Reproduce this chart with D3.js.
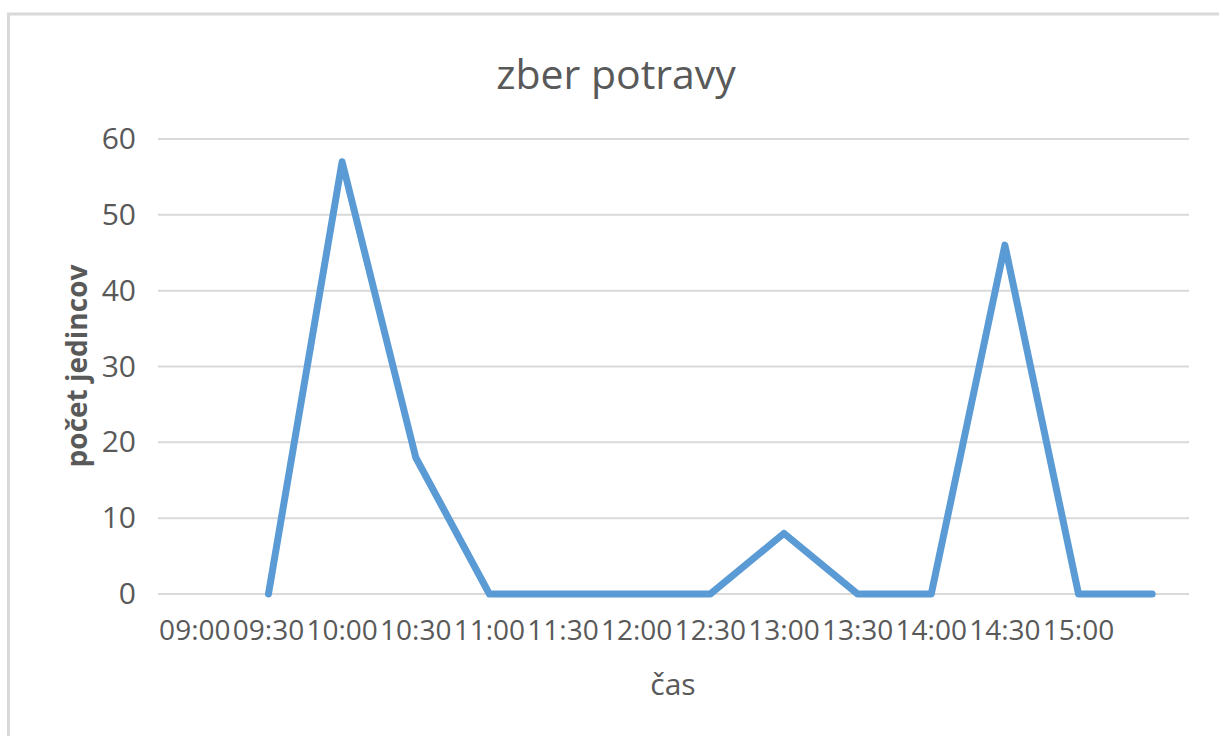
<!DOCTYPE html>
<html>
<head>
<meta charset="utf-8">
<script src="https://cdn.jsdelivr.net/npm/d3@7"></script>
<style>
  body { margin: 0; background: #fff; }
  text { font-family: "Open Sans", sans-serif; fill: #595959; }
</style>
</head>
<body>
<svg id="chart"></svg>
<script>
"use strict";

// data
let categories = ["09:00", "09:30", "10:00", "10:30", "11:00", "11:30", "12:00",
                  "12:30", "13:00", "13:30", "14:00", "14:30", "15:00", ""];
let counts = [null, 0, 57, 18, 0, 0, 0, 0, 8, 0, 0, 46, 0, 0];
let yTicks = [0, 10, 20, 30, 40, 50, 60];

let width = 1219, height = 736;
let margin = {top: 139, right: 30, bottom: 142, left: 158};
let plotW = 1189 - margin.left,
    plotH = 594 - margin.top;

let svg = d3.select("#chart")
  .attr("width", width)
  .attr("height", height);

// chart frame
svg.append("rect")
  .attr("x", 8.5).attr("y", 14)
  .attr("width", 1300).attr("height", 800)
  .attr("fill", "#fff")
  .attr("stroke", "#d9d9d9")
  .attr("stroke-width", 3);

let g = svg.append("g")
  .attr("transform", `translate(${margin.left},${margin.top})`);

let x = d3.scaleBand()
  .domain(d3.range(categories.length))
  .range([0, plotW]);

let y = d3.scaleLinear()
  .domain([0, 60])
  .range([plotH, 0]);

// gridlines
g.append("g")
  .selectAll("line")
  .data(yTicks)
  .join("line")
    .attr("x1", 0).attr("x2", plotW)
    .attr("y1", d => y(d)).attr("y2", d => y(d))
    .attr("stroke", "#d9d9d9")
    .attr("stroke-width", 2);

// y axis labels
let yAxis = g.append("g")
  .call(d3.axisLeft(y).tickValues(yTicks).tickSize(0).tickPadding(22));
yAxis.select(".domain").remove();
yAxis.selectAll("text")
  .style("font-family", "'Open Sans', sans-serif")
  .style("font-size", "30px")
  .attr("fill", "#595959");

// x axis labels
let xAxis = g.append("g")
  .attr("transform", `translate(0,${plotH})`)
  .call(d3.axisBottom(x).tickFormat(i => categories[i]).tickSize(0).tickPadding(26));
xAxis.select(".domain").remove();
xAxis.selectAll("text")
  .style("font-family", "'Open Sans', sans-serif")
  .style("font-size", "28px")
  .attr("fill", "#595959");

// series line
let line = d3.line()
  .defined(d => d.v !== null)
  .x(d => x(d.i) + x.bandwidth() / 2)
  .y(d => y(d.v));

g.append("path")
  .datum(counts.map((v, i) => ({i: i, v: v})))
  .attr("fill", "none")
  .attr("stroke", "#5b9bd5")
  .attr("stroke-width", 7)
  .attr("stroke-linejoin", "round")
  .attr("stroke-linecap", "round")
  .attr("d", line);

// title and axis titles
svg.append("text")
  .attr("x", 616).attr("y", 89)
  .attr("text-anchor", "middle")
  .style("font-size", "41px")
  .text("zber potravy");

svg.append("text")
  .attr("x", 673).attr("y", 695)
  .attr("text-anchor", "middle")
  .style("font-size", "30px")
  .text("čas");

svg.append("text")
  .attr("transform", "translate(87,366) rotate(-90)")
  .attr("text-anchor", "middle")
  .style("font-size", "28px")
  .style("font-weight", "bold")
  .text("počet jedincov");
</script>
</body>
</html>
